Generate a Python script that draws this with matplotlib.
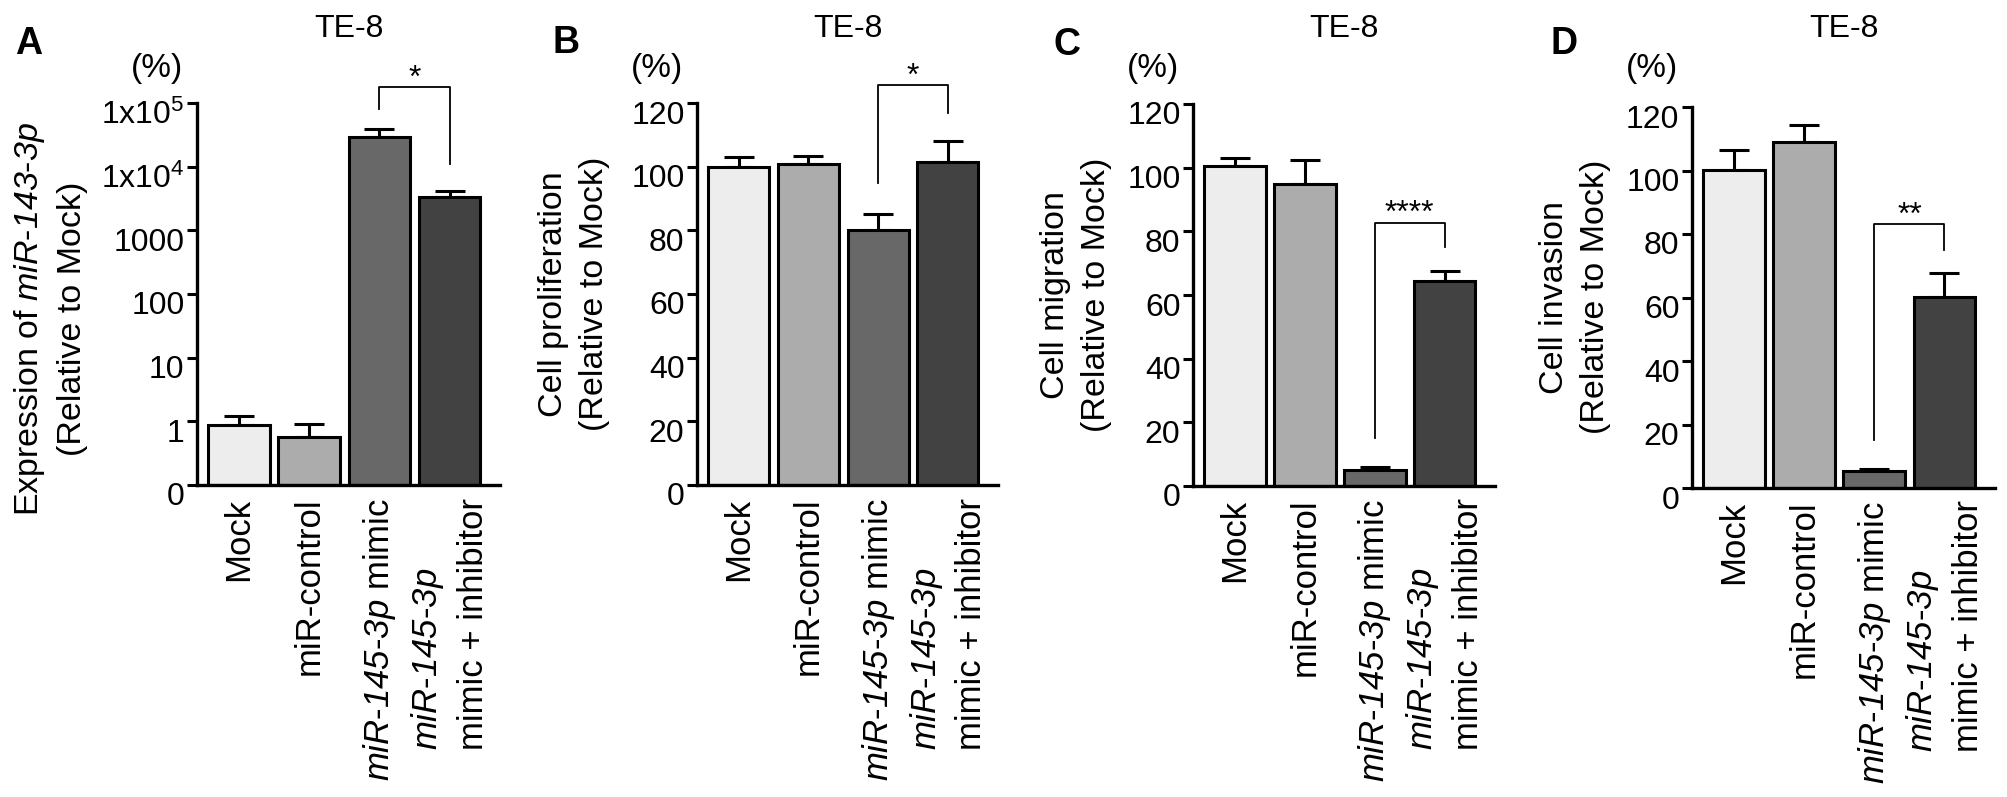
import matplotlib
matplotlib.use("Agg")
import matplotlib.pyplot as plt
from matplotlib.transforms import ScaledTranslation

plt.rcParams['font.family'] = ['Liberation Sans', 'DejaVu Sans']
plt.rcParams['mathtext.fontset'] = 'custom'
plt.rcParams['mathtext.rm'] = 'Liberation Sans'
plt.rcParams['mathtext.it'] = 'Liberation Sans:italic'
# \mathcal se usa como cursiva "de verdad" (con números en cursiva)
plt.rcParams['mathtext.cal'] = 'Liberation Sans:italic'
plt.rcParams['mathtext.bf'] = 'Liberation Sans:bold'

# --- datos ---
MIR = r"$\mathcal{miR}$-$\mathcal{145}$-$\mathcal{3p}$"
grupos = ["Mock", "miR-control", MIR + " mimic", MIR + "\nmimic + inhibitor"]

expr_media = [0.89, 0.57, 29000, 3300]
expr_err = [0.31, 0.35, 10000, 900]
prolif_media = [100, 100.7, 80, 101.5]
prolif_err = [3, 2.8, 5, 6.5]
migr_media = [100.6, 95, 4.9, 64.4]
migr_err = [2.4, 7.5, 1.2, 3.1]
inva_media = [100.3, 109, 5.3, 60.3]
inva_err = [6.3, 5.3, 0.6, 7.5]

ticks_log = [0.1, 1, 10, 100, 1000, 1e4, 1e5]
ticks_log_txt = ["0", "1", "10", "100", "1000", r"1x10$^4$", r"1x10$^5$"]
ticks_lin = [0, 20, 40, 60, 80, 100, 120]

# (x izq, x der, y brazo izq, y tope, y brazo der, texto)
corchetes = [
    (2, 3, 8.1e4, 1.8e5, 1.1e4, "*"),
    (2, 3, 95, 125.5, 117, "*"),
    (2, 3, 15, 82.7, 75, "****"),
    (2, 3, 15, 83, 75, "**"),
]

ylabels = [
    "Expression of " + r"$\mathcal{miR}$-$\mathcal{143}$-$\mathcal{3p}$" + "\n(Relative to Mock)",
    "Cell proliferation\n(Relative to Mock)",
    "Cell migration\n(Relative to Mock)",
    "Cell invasion\n(Relative to Mock)",
]
letras = ["A", "B", "C", "D"]
titulo = "TE-8"

colores = ["#ededed", "#acacac", "#686868", "#424242"]

# --- layout ---
W, H = 2008, 797
fig = plt.figure(figsize=(W / 100, H / 100), dpi=100)

# (izq, abajo, der, arriba) en pixeles
cajas = [(197, 485, 500, 103), (697, 485, 998, 103),
         (1193, 486, 1495, 104), (1692, 488, 1995, 107)]
pos_letra = [(29, 44), (566, 43), (1067, 45), (1564, 44)]
pos_ylabel = [(50, 319), (574, 294), (1076, 295), (1575, 297)]

medias = [expr_media, prolif_media, migr_media, inva_media]
errores = [expr_err, prolif_err, migr_err, inva_err]

base_log = 0.1
x = list(range(len(grupos)))

for i in range(4):
    l, b, r, t = cajas[i]
    ax = fig.add_axes([l / W, 1 - b / H, (r - l) / W, (b - t) / H])
    m, e = medias[i], errores[i]
    if i == 0:
        ax.set_yscale("log")
        ax.bar(x, [v - base_log for v in m], bottom=base_log, width=0.88,
               color=colores, edgecolor="black", linewidth=2.2, zorder=2)
        ax.set_ylim(base_log, 1e5)
        ax.set_yticks(ticks_log)
        ax.set_yticklabels(ticks_log_txt)
        ax.minorticks_off()
    else:
        ax.bar(x, m, width=0.88, color=colores, edgecolor="black",
               linewidth=2.2, zorder=2)
        ax.set_ylim(0, 120)
        ax.set_yticks(ticks_lin)
    ax.errorbar(x, m, yerr=[[0] * 4, e], fmt="none", ecolor="black",
                elinewidth=2.2, capsize=10.5, capthick=2.2, zorder=1)
    ax.set_xlim(-0.6, 3.72)
    ax.set_xticks(x)
    ax.set_xticklabels(grupos, rotation=90, va="top", ha="center",
                       fontsize=25, multialignment="left")
    for lab in ax.get_xticklabels():
        lab.set_linespacing(1.4)
    ax.tick_params(axis="x", length=0, pad=9)
    ax.tick_params(axis="y", length=7, width=2.2, labelsize=23, pad=2,
                   direction="out")
    for s in ["top", "right"]:
        ax.spines[s].set_visible(False)
    for s in ["left", "bottom"]:
        ax.spines[s].set_linewidth(2.4)
    # etiquetas del eje y desplazadas hacia abajo como en GraphPad
    off = ScaledTranslation(0, -0.09, fig.dpi_scale_trans)
    for lab in ax.get_yticklabels():
        lab.set_transform(lab.get_transform() + off)

    # corchete de significancia
    x1, x2, yl, yt, yr, txt = corchetes[i]
    ax.plot([x1, x1, x2, x2], [yl, yt, yt, yr], color="black", lw=1.3,
            clip_on=False, zorder=3)
    ax.annotate(txt, xy=((x1 + x2) / 2, yt), xytext=(0, 6),
                textcoords="offset points", ha="center", va="center",
                fontsize=23, annotation_clip=False)

    # textos
    ax.text(0.5, 1 + (t - 29) / (b - t), titulo, transform=ax.transAxes,
            ha="center", va="center", fontsize=23)
    ax.text(-40 / (r - l), 1 + (t - 68) / (b - t), "(%)",
            transform=ax.transAxes, ha="center", va="center", fontsize=24)
    yx, yy = pos_ylabel[i]
    fig.text(yx / W, 1 - yy / H, ylabels[i], rotation=90, ha="center",
             va="center", multialignment="center", fontsize=24.5,
             linespacing=1.45)
    lx, ly = pos_letra[i]
    fig.text(lx / W, 1 - ly / H, letras[i], ha="center", va="center",
             fontsize=27, fontweight="bold")

fig.savefig("out.png", dpi=100)
